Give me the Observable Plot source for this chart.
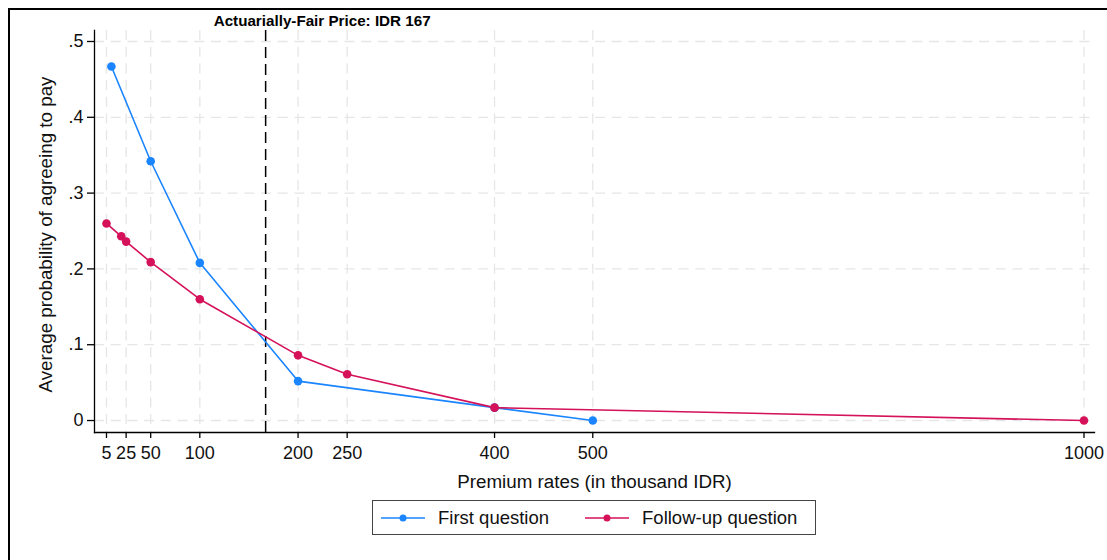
<!DOCTYPE html>
<html>
<head>
<meta charset="utf-8">
<script src="https://cdn.jsdelivr.net/npm/d3@7"></script>
<script src="https://cdn.jsdelivr.net/npm/@observablehq/plot@0.6"></script>
<style>
  html, body { margin: 0; padding: 0; background: #fff; overflow: hidden; }
  body { width: 1107px; height: 560px; position: relative; font-family: "Liberation Sans", Arial, Helvetica, sans-serif; }
  #outer { position: absolute; left: 8px; top: 8px; width: 1200px; height: 700px; border: 2.5px solid #000; pointer-events: none; }
  #chart { position: absolute; left: 0; top: 0; }
  #legend { position: absolute; left: 372px; top: 500px; width: 442px; height: 33px; border: 1.3px solid #444;
            display: flex; align-items: center; font-size: 18.5px; color: #111; }
  .item { display: flex; align-items: center; }
  .item svg { display: block; }
</style>
</head>
<body>
<div id="chart"></div>
<div id="legend"></div>
<div id="outer"></div>
<script>
// ---- data ----
const firstPremium = [10, 50, 100, 200, 400, 500];
const firstProb    = [0.467, 0.342, 0.208, 0.052, 0.017, 0.0];
const followPremium = [5, 20, 25, 50, 100, 200, 250, 400, 1000];
const followProb    = [0.260, 0.243, 0.236, 0.209, 0.160, 0.086, 0.061, 0.017, 0.0];
const seriesNames = ["First question", "Follow-up question"];
const seriesColors = ["#1a85ff", "#d41159"];
const xTicks = [5, 25, 50, 100, 200, 250, 400, 500, 1000];
const xTickLabels = ["5", "25", "50", "100", "200", "250", "400", "500", "1000"];
const yTicks = [0, 0.1, 0.2, 0.3, 0.4, 0.5];
const yTickLabels = ["0", ".1", ".2", ".3", ".4", ".5"];
const fairPrice = 167;
const fairLabel = "Actuarially-Fair Price: IDR 167";
const xTitle = "Premium rates (in thousand IDR)";
const yTitle = "Average probability of agreeing to pay";

const first = firstPremium.map((p, i) => ({premium: p, prob: firstProb[i]}));
const follow = followPremium.map((p, i) => ({premium: p, prob: followProb[i]}));
const fair = [{premium: fairPrice, label: fairLabel}];

const font = '"Liberation Sans", Arial, Helvetica, sans-serif';
const gridStyle = {stroke: "#e6e6e6", strokeOpacity: 1, strokeWidth: 1.3, strokeDasharray: "10,6.7"};

const chart = Plot.plot({
  width: 1107,
  height: 495,
  marginLeft: 94,
  marginRight: 13,
  marginTop: 30,
  marginBottom: 63,
  style: {fontFamily: font, background: "transparent", color: "#111"},
  x: {domain: [-7.2, 1010.7]},
  y: {domain: [-0.0158, 0.5145]},
  marks: [
    Plot.gridX({ticks: xTicks, ...gridStyle}),
    Plot.gridY({ticks: yTicks, ...gridStyle}),
    Plot.axisX({ticks: xTicks, tickFormat: d => xTickLabels[xTicks.indexOf(d)], tickSize: 6, tickPadding: 8,
                fontSize: 18, strokeWidth: 1.3, label: null, stroke: "#000"}),
    Plot.axisY({ticks: yTicks, tickFormat: d => yTickLabels[yTicks.indexOf(d)], tickSize: 7, tickPadding: 4,
                fontSize: 18, strokeWidth: 1.3, label: null, stroke: "#000"}),
    Plot.frame({anchor: "left", stroke: "#000", strokeWidth: 1.3}),
    Plot.frame({anchor: "bottom", stroke: "#000", strokeWidth: 1.3}),
    Plot.ruleX(fair, {x: "premium", stroke: "#000", strokeWidth: 1.5, strokeDasharray: "11,6"}),
    Plot.text(fair, {x: "premium", text: "label", frameAnchor: "top", lineAnchor: "bottom", dy: -5, dx: 56.5,
                     fontWeight: "bold", fontSize: 15.2, fill: "#000"}),
    Plot.line(first, {x: "premium", y: "prob", stroke: seriesColors[0], strokeWidth: 1.6}),
    Plot.dot(first, {x: "premium", y: "prob", r: 4.3, fill: seriesColors[0], stroke: "none"}),
    Plot.line(follow, {x: "premium", y: "prob", stroke: seriesColors[1], strokeWidth: 1.6}),
    Plot.dot(follow, {x: "premium", y: "prob", r: 4.3, fill: seriesColors[1], stroke: "none"}),
    Plot.text([xTitle], {text: d => d, frameAnchor: "bottom", textAnchor: "middle", lineAnchor: "bottom", dy: 55, fontSize: 18.8, fill: "#111"}),
    Plot.text([yTitle], {text: d => d, frameAnchor: "left", textAnchor: "middle", rotate: -90, lineAnchor: "bottom", dx: -43, dy: 3, fontSize: 18.8, fill: "#111"})
  ]
});
document.getElementById("chart").appendChild(chart);

// legend
const legend = document.getElementById("legend");
const offsets = [8, 36];
seriesNames.forEach((name, i) => {
  const item = document.createElement("div");
  item.className = "item";
  item.style.marginLeft = offsets[i] + "px";
  item.innerHTML = `<svg width="44" height="20"><line x1="0" y1="10" x2="44" y2="10" stroke="${seriesColors[i]}" stroke-width="1.6"/><circle cx="22" cy="10" r="3.5" fill="${seriesColors[i]}"/></svg><span style="margin-left:13px">${name}</span>`;
  legend.appendChild(item);
});
</script>
</body>
</html>
